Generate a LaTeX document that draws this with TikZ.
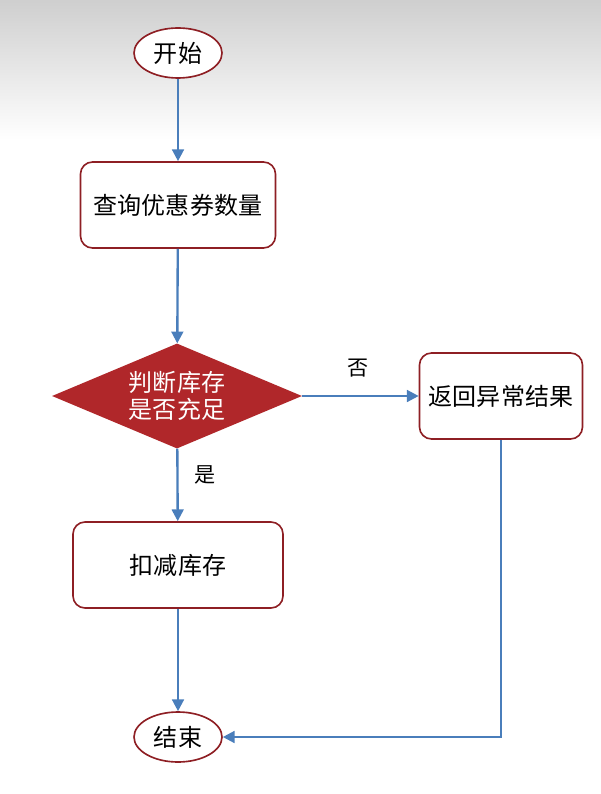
\documentclass[tikz,border=0pt]{standalone}
\usepackage{fontspec}
\setmainfont{Noto Sans CJK SC}
\usetikzlibrary{arrows.meta,positioning,shapes.geometric}
\definecolor{frame}{HTML}{8E1F24}
\definecolor{wine}{HTML}{B0272A}
\definecolor{flow}{HTML}{4A7EBB}
\tikzset{
  term/.style={ellipse,draw=frame,line width=1.4pt,fill=white,
    minimum width=2.64cm,minimum height=1.5cm,inner sep=0pt,font=\fontsize{20.5}{22}\selectfont},
  stepbox/.style={rectangle,rounded corners=0.36cm,draw=frame,line width=1.4pt,fill=white,
    minimum height=2.58cm,inner sep=0pt,font=\fontsize{20.5}{22}\selectfont},
  check/.style={diamond,aspect=2.38,fill=wine,text=white,minimum width=7.5cm,minimum height=3.15cm,
    inner sep=0pt,align=center,font=\fontsize{20.5}{23}\selectfont},
  link/.style={flow,line width=2pt,-{Triangle[length=10pt,width=10pt]}},
  tag/.style={font=\fontsize{18}{20}\selectfont}
}

\begin{document}
\begin{tikzpicture}[x=0.03cm,y=-0.03cm]
  \useasboundingbox (0,0) rectangle (601,794);
  % backdrop
  \fill[white] (0,0) rectangle (601,794);
  \shade[top color=black!19,bottom color=white] (0,0) rectangle (601,140);

  \node[term] (start) at (178,53) {开始};
  \node[stepbox,minimum width=5.85cm] (query) at (178,205) {查询优惠券数量};
  \node[check] (stock) at (177,396) {判断库存\\是否充足};
  \node[stepbox,minimum width=4.89cm] (fail) at (501,396) {返回异常结果};
  \node[stepbox,minimum width=6.3cm] (deduct) at (178,565) {扣减库存};
  \node[term] (finish) at (178,737) {结束};

  \draw[link] (start) -- (query);
  \draw[link] (query) -- (stock);
  \draw[link] (stock.east) -- (fail.west);
  \draw[link] (stock) -- (deduct);
  \draw[link] (deduct) -- (finish);
  \draw[link] (fail.south) |- (finish.east);

  \node[tag] (no) at (358,368) {否};
  \node[tag] (yes) at (205,475) {是};
\end{tikzpicture}
\end{document}
